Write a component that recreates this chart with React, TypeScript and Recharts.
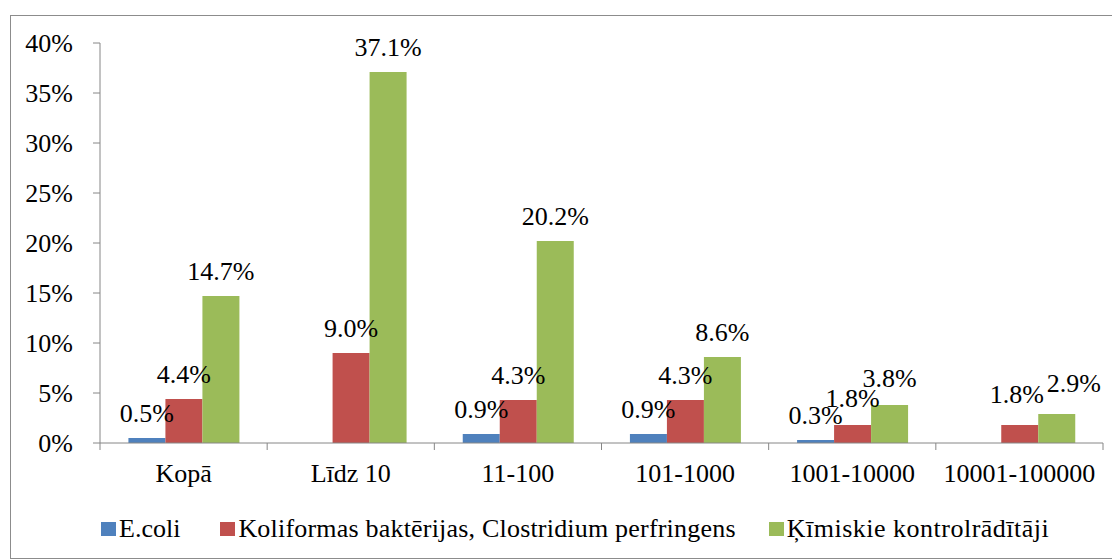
import React from 'react';
import { BarChart, Bar, XAxis, YAxis, Legend, LabelList } from 'recharts';

const categories = ['Kopā', 'Līdz 10', '11-100', '101-1000', '1001-10000', '10001-100000'];
const ecoli = [0.5, null, 0.9, 0.9, 0.3, null];
const koliformas = [4.4, 9.0, 4.3, 4.3, 1.8, 1.8];
const kimiskie = [14.7, 37.1, 20.2, 8.6, 3.8, 2.9];
const yTicks = [0, 5, 10, 15, 20, 25, 30, 35, 40];
const seriesNames = ['E.coli', 'Koliformas baktērijas, Clostridium perfringens', 'Ķīmiskie kontrolrādītāji'];

const data = categories.map((c, i) => ({
  name: c,
  ecoli: ecoli[i],
  koliformas: koliformas[i],
  kimiskie: kimiskie[i],
}));

const FONT = '"Liberation Serif", "Times New Roman", serif';
const FS = 26;
const AXIS = '#868686';
const W = 1107;
const H = 542;
const M = { top: 27, right: 15, left: 0, bottom: 25 };
const YW = 89;
const TICK = 7;
const TICK_MARGIN = 14;
const HALF_BAND = (W - M.left - M.right - YW) / categories.length / 2;
const LABEL_GAP = 16;

// small per-label nudges (dx, dy) so the crowded labels sit as in the reference
const labelNudge: Record<string, Record<number, [number, number]>> = {
  ecoli: { 4: [-2, -3] },
  koliformas: { 4: [0, -2], 5: [-3, -6] },
  kimiskie: { 4: [0, -2], 5: [17, -6] },
};

const fmt = (v: any) => (v === null || v === undefined ? '' : `${Number(v).toFixed(1)}%`);

const makeLabel = (key: string) => (props: any) => {
  const { x, y, width, value, index } = props;
  if (value === null || value === undefined) return null;
  const [dx, dy] = (labelNudge[key] && labelNudge[key][index]) || [0, 0];
  return (
    <text
      x={Number(x) + Number(width) / 2 + dx}
      y={Number(y) - LABEL_GAP + dy}
      textAnchor="middle"
      fontFamily={FONT}
      fontSize={FS}
      fill="#000"
    >
      {fmt(value)}
    </text>
  );
};

const XTick = (props: any) => {
  const { x, y, payload, index } = props;
  const axisY = y - TICK - TICK_MARGIN;
  return (
    <g>
      <line x1={x - HALF_BAND} x2={x - HALF_BAND} y1={axisY} y2={axisY + TICK} stroke={AXIS} strokeWidth={1} />
      {index === categories.length - 1 && (
        <line x1={x + HALF_BAND} x2={x + HALF_BAND} y1={axisY} y2={axisY + TICK} stroke={AXIS} strokeWidth={1} />
      )}
      <text x={x} y={y} dy="0.71em" textAnchor="middle" fontFamily={FONT} fontSize={FS} fill="#000">
        {payload.value}
      </text>
    </g>
  );
};

const legendGaps = [40, 33, 0];
const legendSpacing = [0, 0.2, 0.5];

const renderLegend = (props: any) => {
  const { payload } = props;
  return (
    <div style={{ display: 'flex', alignItems: 'center', height: 30, fontFamily: FONT, fontSize: FS, color: '#000', whiteSpace: 'nowrap' }}>
      {payload.map((e: any, i: number) => (
        <div key={i} style={{ display: 'flex', alignItems: 'center', marginRight: legendGaps[i] }}>
          <span style={{ width: 15, height: 14, background: e.color, marginRight: 3, display: 'inline-block' }} />
          <span style={{ letterSpacing: legendSpacing[i] }}>{e.value}</span>
        </div>
      ))}
    </div>
  );
};

export default function App() {
  return (
    <div style={{ marginLeft: 2, marginTop: 7, width: W, height: H, border: '1px solid #8c8c8c', background: '#fff' }}>
      <BarChart width={W} height={H} data={data} margin={M} barCategoryGap="17%" barGap={0}>
        <XAxis
          dataKey="name"
          height={60}
          axisLine={{ stroke: AXIS }}
          tickLine={false}
          tickSize={TICK}
          tickMargin={TICK_MARGIN}
          tick={<XTick />}
          interval={0}
        />
        <YAxis
          width={YW}
          domain={[0, 40]}
          ticks={yTicks}
          tickFormatter={(v: number) => `${v}%`}
          axisLine={{ stroke: AXIS }}
          tickLine={{ stroke: AXIS }}
          tickSize={TICK}
          tickMargin={20}
          tick={{ fontFamily: FONT, fontSize: FS, fill: '#000' }}
          interval={0}
        />
        <Legend content={renderLegend} wrapperStyle={{ left: 90, bottom: 14, width: 'auto' }} />
        <Bar dataKey="ecoli" name={seriesNames[0]} fill="#4F81BD" isAnimationActive={false}>
          <LabelList dataKey="ecoli" content={makeLabel('ecoli')} />
        </Bar>
        <Bar dataKey="koliformas" name={seriesNames[1]} fill="#C0504D" isAnimationActive={false}>
          <LabelList dataKey="koliformas" content={makeLabel('koliformas')} />
        </Bar>
        <Bar dataKey="kimiskie" name={seriesNames[2]} fill="#9BBB59" isAnimationActive={false}>
          <LabelList dataKey="kimiskie" content={makeLabel('kimiskie')} />
        </Bar>
      </BarChart>
    </div>
  );
}
